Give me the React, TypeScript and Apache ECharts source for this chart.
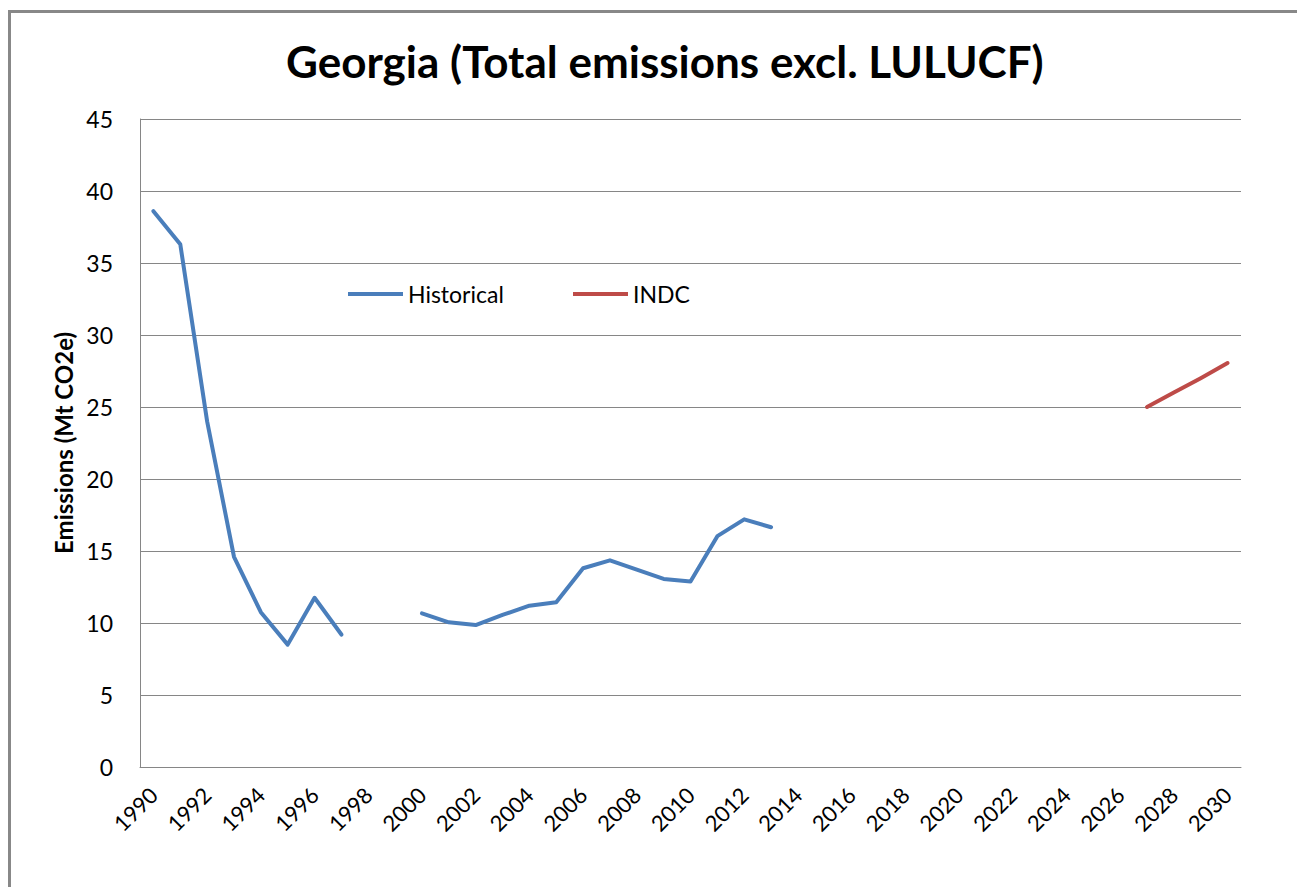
import React, { useEffect, useRef } from "react";
import * as echarts from "echarts";

const years: string[] = [];
for (let y = 1990; y <= 2030; y++) years.push(String(y));

const historical: (number | null)[] = [
  38.6, 36.3, 24.0, 14.6, 10.75, 8.5, 11.75, 9.2, null, null,
  10.67, 10.05, 9.86, 10.56, 11.2, 11.44, 13.8, 14.35, 13.7, 13.06,
  12.88, 16.03, 17.2, 16.65,
];

const indcYears = ["2027", "2028", "2029", "2030"];
const indcValues = [25.0, 26.0, 27.0, 28.05];

const titleText = "Georgia (Total emissions excl. LULUCF)";
const yAxisName = "Emissions (Mt CO2e)";

export default function App() {
  const ref = useRef<HTMLDivElement>(null);
  useEffect(() => {
    if (!ref.current) return;
    const chart = echarts.init(ref.current, null, { renderer: "svg" });
    const histData = years.map((y, i) => (i < historical.length ? historical[i] : null));
    const indcData = years.map((y) => {
      const k = indcYears.indexOf(y);
      return k >= 0 ? indcValues[k] : null;
    });
    const font = "Lato, 'Open Sans', sans-serif";
    chart.setOption({
      animation: false,
      backgroundColor: "#ffffff",
      title: {
        text: titleText,
        left: 281,
        top: 34,
        textStyle: { fontFamily: font, fontWeight: "bold", fontSize: 44, color: "#000" },
      },
      graphic: [
        { type: "line", shape: { x1: 9.5, y1: 10, x2: 9.5, y2: 887 }, style: { stroke: "#888", lineWidth: 3 } },
        { type: "line", shape: { x1: 8, y1: 11.5, x2: 1297, y2: 11.5 }, style: { stroke: "#888", lineWidth: 3 } },
      ],
      legend: [
        {
          data: ["Historical"],
          left: 343,
          top: 277,
          icon: "rect",
          itemWidth: 55,
          itemHeight: 4,
          textStyle: { fontFamily: font, fontSize: 23, color: "#000", lineHeight: 24 },
        },
        {
          data: ["INDC"],
          left: 568,
          top: 277,
          icon: "rect",
          itemWidth: 55,
          itemHeight: 4,
          textStyle: { fontFamily: font, fontSize: 23, color: "#000", lineHeight: 24 },
        },
      ],
      grid: { left: 140, right: 56, top: 119, bottom: 120 },
      xAxis: {
        type: "category",
        data: years,
        boundaryGap: true,
        axisLine: { lineStyle: { color: "#868686", width: 1 } },
        axisTick: { show: false },
        axisLabel: {
          interval: 1,
          rotate: 45,
          margin: 24,
          fontFamily: font,
          fontSize: 22,
          color: "#000",
        },
        splitLine: { show: false },
      },
      yAxis: {
        type: "value",
        min: 0,
        max: 45,
        interval: 5,
        name: yAxisName,
        nameLocation: "middle",
        nameGap: 64,
        nameTextStyle: { fontFamily: font, fontWeight: "bold", fontSize: 24, color: "#000" },
        axisLine: { show: true, lineStyle: { color: "#868686", width: 1 } },
        axisTick: { show: false },
        axisLabel: { fontFamily: font, fontSize: 23, color: "#000", margin: 27 },
        splitLine: { lineStyle: { color: "#868686", width: 1 } },
      },
      series: [
        {
          name: "Historical",
          type: "line",
          data: histData,
          symbol: "none",
          connectNulls: false,
          itemStyle: { color: "#4A7EBB" },
          lineStyle: { color: "#4A7EBB", width: 4, cap: "round", join: "round" },
        },
        {
          name: "INDC",
          type: "line",
          data: indcData,
          symbol: "none",
          connectNulls: false,
          itemStyle: { color: "#BE4B48" },
          lineStyle: { color: "#BE4B48", width: 4, cap: "round", join: "round" },
        },
      ],
    });
    return () => chart.dispose();
  }, []);
  return (
    <div
      ref={ref}
      style={{ position: "absolute", left: 0, top: 0, width: 1297, height: 887 }}
    />
  );
}
